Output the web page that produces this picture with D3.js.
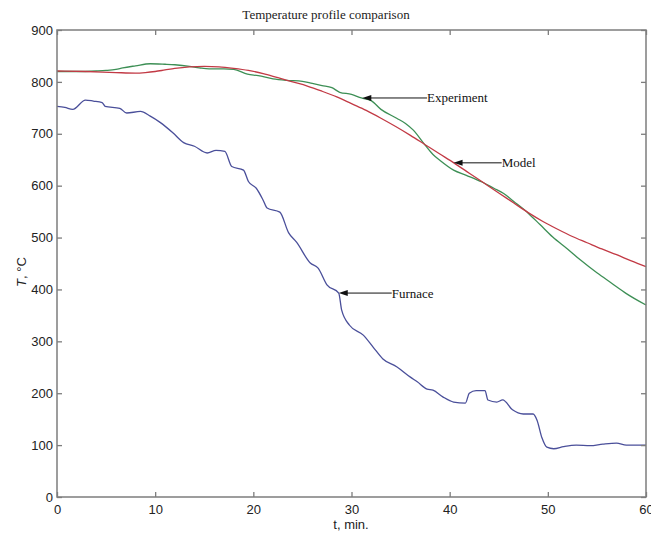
<!DOCTYPE html>
<html><head><meta charset="utf-8">
<script src="https://cdn.jsdelivr.net/npm/d3@7"></script>
<style>body{margin:0;background:#fff}svg{display:block}</style>
</head><body>
<svg id="c" width="651" height="533"></svg>
<script>
const title = "Temperature profile comparison";
const xTicks = [0,10,20,30,40,50,60];
const yTicks = [0,100,200,300,400,500,600,700,800,900];

const expT = [0,2,4,5,6,6.7,8,9.5,11,12,13.5,14.5,15.5,17,18,19.4,20.5,22,23.4,25,26,27,28,28.8,30,31,32,33,34.6,35.5,36.3,37.5,38.3,39,40.4,41.7,43.3,44.5,45.5,46.5,48,49.2,50.5,52,53.3,55,56.5,58,60];
const expV = [820,820,821,822,824,827,831,835,834,833,830,827,825,825,824,815,812,806,803,801,797,793,789,780,776,769,764,747,730,720,707,678,660,649,630,620,607,595,585,570,547,525,501,478,457,432,412,392,370];

const modT = [0,3,6,8,9,10,11,12,13.5,15,16.5,18,19.5,21,22.5,24,25.5,27,28.5,30,31.5,33,34.5,36,37.5,39,40.5,42,43.5,45,46.5,48,49.5,51,52.5,54,55.5,57,58.5,60];
const modV = [821,820,818,817,818,820,823,826,829,830,829,826,822,816,808,800,792,782,771,758,745,730,714,697,679,661,643,624,605,586,567,548,531,516,502,490,478,467,455,444];

const furT = [0,0.8,1.6,2.9,3.7,4.6,4.9,6.4,7.1,8.5,9.5,10.5,11.8,12.9,14,15.3,16.2,17.1,17.8,19,19.5,20.3,21,21.4,22.7,23.6,24.4,25.8,26.6,27.5,28.7,29,29.8,31.2,32.2,33.2,34.6,36,36.7,37.7,38.3,39.3,40.4,41.6,42,42.7,43.6,43.9,44.8,45.4,46.4,47.5,48.5,48.9,49.4,49.9,50.6,51.6,52.9,54.3,55.6,57,58,59.7,60];
const furV = [753,751,747,765,763,760,753,749,740,743,734,722,702,683,676,663,668,666,637,630,608,595,572,557,549,509,491,451,441,409,393,360,331,312,289,266,251,231,222,208,206,193,183,181,200,205,205,187,183,187,168,160,160,148,114,96,93,97,100,99,102,104,100,100,100];

const labels = ["Experiment","Model","Furnace"];
const labelTipT = [31.1, 40.4, 28.7];
const labelTipV = [769, 644, 393];
const labelTextT = [37.7, 45.3, 34.1];

const svg = d3.select("#c");
const L=57, R=646, T=30, B=497;
const x = d3.scaleLinear().domain([0,60]).range([L,R]);
const y = d3.scaleLinear().domain([0,900]).range([B,T]);

svg.append("text").attr("x",326).attr("y",19).attr("text-anchor","middle")
  .attr("font-family","Liberation Serif, Times New Roman, serif").attr("font-size",13).attr("fill","#222").text(title);

const g = svg.append("g");
const line = d3.line().curve(d3.curveMonotoneX);
function draw(ts, vs, col){
  g.append("path").attr("d", line(ts.map((t,i)=>[x(t), y(vs[i])])))
   .attr("fill","none").attr("stroke",col).attr("stroke-width",1.3);
}
draw(furT, furV, "#4a4f9a");
draw(expT, expV, "#3d8f55");
draw(modT, modV, "#c23a45");

// frame
const frameCol = "#7d7d7d";
svg.append("rect").attr("x",L).attr("y",T).attr("width",R-L).attr("height",B-T)
  .attr("fill","none").attr("stroke",frameCol).attr("stroke-width",1.5);

const tl = 5;
const xb = svg.append("g").attr("transform",`translate(0,${B})`)
  .call(d3.axisBottom(x).tickValues(xTicks).tickSize(-tl).tickPadding(8).tickFormat(d3.format("d")));
const xt = svg.append("g").attr("transform",`translate(0,${T})`)
  .call(d3.axisTop(x).tickValues(xTicks).tickSize(-tl).tickFormat(""));
const yl = svg.append("g").attr("transform",`translate(${L},0)`)
  .call(d3.axisLeft(y).tickValues(yTicks).tickSize(-tl).tickPadding(4).tickFormat(d3.format("d")));
const yr = svg.append("g").attr("transform",`translate(${R},0)`)
  .call(d3.axisRight(y).tickValues(yTicks).tickSize(-tl).tickFormat(""));
[xb,xt,yl,yr].forEach(a=>{
  a.select(".domain").remove();
  a.selectAll("line").attr("stroke",frameCol).attr("stroke-width",1.3);
  a.selectAll("text").attr("font-family","Liberation Sans, Arial, sans-serif").attr("font-size",13).attr("fill","#222");
});

svg.append("text").attr("x",351).attr("y",529).attr("text-anchor","middle")
  .attr("font-family","Liberation Sans, Arial, sans-serif").attr("font-size",13).attr("fill","#222").text("t, min.");

const yt = svg.append("text").attr("transform","translate(26,272) rotate(-90)").attr("text-anchor","middle")
  .attr("font-family","Liberation Sans, Arial, sans-serif").attr("font-size",13).attr("fill","#222");
yt.append("tspan").attr("font-style","italic").text("T");
yt.append("tspan").text(", °C");

// annotations
labels.forEach((lab,i)=>{
  const tx = x(labelTipT[i]), ty = y(labelTipV[i]), ex = x(labelTextT[i]);
  svg.append("line").attr("x1",tx+6).attr("y1",ty).attr("x2",ex).attr("y2",ty).attr("stroke","#111").attr("stroke-width",1);
  svg.append("path").attr("d",`M${tx},${ty}L${tx+9},${ty-3}L${tx+9},${ty+3}Z`).attr("fill","#111");
  svg.append("text").attr("x",ex).attr("y",ty+4.5)
    .attr("font-family","Liberation Serif, Times New Roman, serif").attr("font-size",13).attr("fill","#111").text(lab);
});
</script>
</body></html>
